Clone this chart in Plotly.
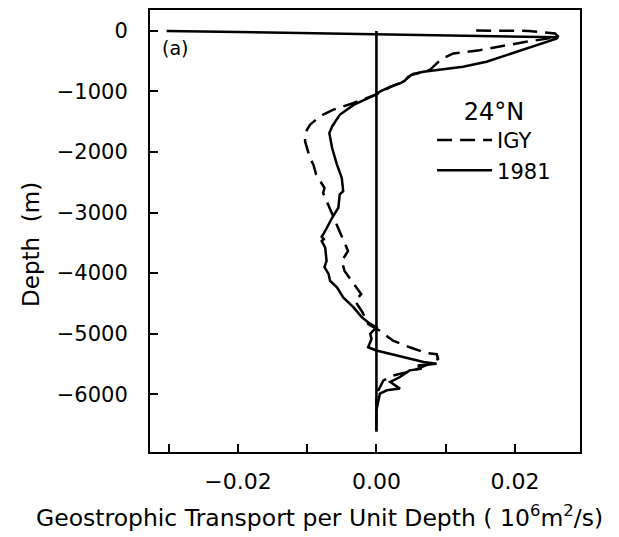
import plotly.graph_objects as go

# ---- data (transport in 1e6 m^2/s per m, depth in m) ----
igy_x = [0.0144, 0.0220, 0.0258, 0.0263, 0.0216, 0.0149, 0.0111, 0.0096, 0.0087, 0.0077,
         0.0050, 0.0040, 0.0020, 0.0000, -0.0034, -0.0063, -0.0082, -0.0096, -0.0103, -0.0103,
         -0.0096, -0.0091, -0.0087, -0.0084, -0.0075, -0.0077, -0.0072, -0.0065, -0.0058, -0.0050,
         -0.0041, -0.0050, -0.0046, -0.0034, -0.0022, -0.0031, -0.0020, -0.0012, 0.0005, 0.0024,
         0.0048, 0.0072, 0.0087, 0.0089, 0.0077, 0.0053, 0.0024, 0.0010, 0.0005, 0.0000, 0.0000]
igy_depth = [5, 0, -44, -99, -181, -318, -373, -455, -537, -647,
             -730, -830, -930, -1050, -1195, -1304, -1414, -1551, -1689, -1826,
             -2100, -2209, -2374, -2430, -2594, -2676, -2812, -2977, -3196, -3416,
             -3635, -3799, -3964, -4156, -4347, -4457, -4650, -4841, -4951, -5115,
             -5225, -5320, -5340, -5416, -5498, -5609, -5691, -5773, -5883, -6000, -6200]

y1981_x = [-0.0303, 0.0262, 0.0260, 0.0231, 0.0197, 0.0159, 0.0125, 0.0092, 0.0068, 0.0053,
           0.0046, 0.0041, 0.0034, 0.0020, 0.0005, -0.0002, -0.0033, -0.0053, -0.0064, -0.0068,
           -0.0064, -0.0057, -0.0050, -0.0048, -0.0053, -0.0055, -0.0064, -0.0074, -0.0079, -0.0076,
           -0.0079, -0.0074, -0.0072, -0.0075, -0.0069, -0.0067, -0.0057, -0.0048, -0.0038, -0.0033,
           -0.0021, -0.0009, 0.0000, -0.0009, -0.0007, -0.0012, 0.0000, 0.0068, 0.0087, 0.0060,
           0.0065, 0.0048, 0.0034, 0.0020, 0.0034, 0.0015, 0.0005, 0.0003, 0.0000, 0.0000]
y1981_depth = [0, -105, -127, -235, -373, -510, -592, -646, -674, -712,
               -756, -822, -866, -921, -1003, -1057, -1222, -1386, -1578, -1688,
               -1935, -2208, -2428, -2647, -2701, -2921, -3086, -3304, -3400, -3440,
               -3469, -3579, -3797, -3900, -4016, -4126, -4236, -4401, -4509, -4565,
               -4730, -4838, -4894, -5003, -5085, -5223, -5277, -5469, -5496, -5524,
               -5578, -5606, -5716, -5798, -5907, -5935, -5989, -6099, -6263, -6592]

zero_x = [0.0, 0.0]
zero_depth = [0, -6620]

y_tickvals = [0, -1000, -2000, -3000, -4000, -5000, -6000]

FONT = "DejaVu Sans"

fig = go.Figure()
fig.add_trace(go.Scatter(x=zero_x, y=zero_depth, mode="lines",
                         line=dict(color="black", width=2.6), showlegend=False, hoverinfo="skip"))
fig.add_trace(go.Scatter(x=igy_x, y=igy_depth, mode="lines", name="IGY",
                         line=dict(color="black", width=2.5, dash="15px,8px")))
fig.add_trace(go.Scatter(x=y1981_x, y=y1981_depth, mode="lines", name="1981",
                         line=dict(color="black", width=2.5)))

fig.add_annotation(x=-0.0312, y=-290, xref="x", yref="y", text="(a)", showarrow=False,
                   xanchor="left", yanchor="middle", font=dict(family=FONT, size=19, color="black"))
fig.add_annotation(x=0.395, y=0, xref="paper", yref="paper",
                   text="Geostrophic Transport per Unit Depth ( 10<sup>6</sup>m<sup>2</sup>/s)",
                   showarrow=False, xanchor="center", yanchor="top", yshift=-47,
                   font=dict(family=FONT, size=23.5, color="black"))
fig.add_annotation(x=0, y=-3534, xref="paper", yref="y", text="Depth  (m)", textangle=-90,
                   showarrow=False, xanchor="center", yanchor="middle", xshift=-119,
                   font=dict(family=FONT, size=23, color="black"))

fig.update_layout(
    width=619, height=537,
    margin=dict(l=150, r=39, t=8, b=85),
    paper_bgcolor="white", plot_bgcolor="white",
    font=dict(family=FONT, color="black"),
    showlegend=True,
    legend=dict(x=0.656, y=0.822, xanchor="left", yanchor="top",
                bgcolor="rgba(0,0,0,0)", borderwidth=0,
                font=dict(family=FONT, size=21, color="black"),
                title=dict(text="24°N", side="top center", font=dict(family=FONT, size=24)),
                tracegroupgap=0, itemwidth=55),
)
fig.update_xaxes(range=[-0.0327, 0.0294], tick0=0, dtick=0.02, tickformat=".2f",
                 ticks="inside", ticklen=8, tickwidth=2, tickcolor="black",
                 minor=dict(tick0=0, dtick=0.01, ticks="inside", ticklen=8, tickwidth=2,
                            tickcolor="black", showgrid=False),
                 showline=True, linecolor="black", linewidth=2, mirror=True,
                 showgrid=False, zeroline=False, ticklabelstandoff=9,
                 tickfont=dict(family=FONT, size=22, color="black"))
fig.update_yaxes(range=[-6954, 345], tickvals=y_tickvals, tickformat="d",
                 ticks="inside", ticklen=8, tickwidth=2, tickcolor="black",
                 showline=True, linecolor="black", linewidth=2, mirror=True,
                 showgrid=False, zeroline=False, ticklabelstandoff=16,
                 tickfont=dict(family=FONT, size=21, color="black"))

fig.write_html("out.html")
